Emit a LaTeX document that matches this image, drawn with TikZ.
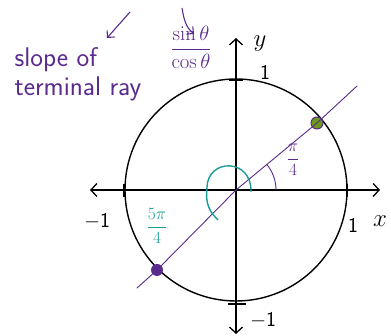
\documentclass[tikz,border=0pt]{standalone}
\usepackage{amsmath,amssymb}
\usepackage{xcolor}
\usepackage{tikz}
\usetikzlibrary{positioning,arrows.meta,calc}
\definecolor{rayviolet}{HTML}{5A2A8C}
\definecolor{angteal}{HTML}{1A9C98}
\definecolor{ptgreen}{HTML}{6A9A18}
\tikzset{
  axisln/.style ={draw=black, line width=1.3pt,
                  {Straight Barb[length=6pt,width=13pt]}-{Straight Barb[length=6pt,width=13pt]}},
  unitc/.style  ={draw=black, line width=1.4pt},
  tick/.style   ={draw=black, line width=1.6pt},
  ray/.style    ={draw=rayviolet, line width=0.9pt, line cap=round},
  lbl/.style    ={font=\sffamily\fontsize{17}{17}\selectfont, inner sep=1pt},
  num/.style    ={font=\sffamily\fontsize{21}{21}\selectfont, inner sep=1pt},
  big/.style    ={font=\fontsize{24}{24}\selectfont, inner sep=1pt},
  note/.style   ={lbl, rayviolet, font=\sffamily\fontsize{27}{29}\selectfont},
  pointer/.style={draw=rayviolet, line width=1.1pt, -{Straight Barb[length=5pt,width=10pt]}},
  dot/.style    ={circle, inner sep=0pt, minimum size=12pt},
}
\begin{document}
\begin{tikzpicture}[x=1pt,y=-1pt]
\useasboundingbox (0,0) rectangle (391,336);
% axes and unit circle
\coordinate (O) at (236,190);
\coordinate (xL) at (90,190);  \coordinate (xR) at (380,190);
\coordinate (yT) at (236,38);  \coordinate (yB) at (236,334);
\draw[unitc] (O) circle (111);
\draw[axisln] (xL) -- (xR);
\draw[axisln] (yB) -- (yT);
\foreach \x in {124,347} {\draw[tick] (\x,184) -- (\x,197);}
\draw[tick] (229,80) -- (243,80);
\draw[tick] (228,304) -- (246,304);
% axis labels
\node[big] (ylab) at (260,44) {$y$};
\node[big] (xlab) at (380,221) {$x$};
\node[num] (one1) at (265,72) {1};
\node[num] (one2) at (353,225) {1};
\node[num] (mone1) at (97,221) {$-$1};
\node[num] (mone2) at (263,320) {$-$1};
% terminal ray
\coordinate (rS) at (137,288);
\coordinate (rE) at (357,86);
\node[dot, fill=rayviolet] (pA) at (157,270) {};
\node[dot, draw=rayviolet, line width=1pt, fill=ptgreen] (pB) at (317,123) {};
\draw[ray] (rS) -- (pA.center) -- (O) -- (pB.center) -- (rE);
% angles
\draw[rayviolet, line width=0.9pt] (276,190) arc[start angle=0, end angle=-40, radius=40];
\node[lbl, rayviolet] (qtr) at (293,160) {$\dfrac{\pi}{4}$};
\draw[angteal, line width=1.4pt] (251,192) .. controls (252,158) and (208,158) .. (207,187)
  .. controls (205,205) and (210,212) .. (218,220);
\node[lbl, angteal] (fqtr) at (157,226) {$\dfrac{5\pi}{4}$};
% notes
\node[note, align=left] (slope) at (78,74) {slope of\\terminal ray};
\node[lbl, rayviolet, font=\fontsize{20}{20}\selectfont] (ratio) at (191,47) {$\dfrac{\sin\theta}{\cos\theta}$};
\coordinate (t1) at (130,12);
\coordinate (t2) at (182,8);
\draw[pointer] (t1) -- (107,38);
\draw[pointer] (t2) to[out=-80,in=140] (194,34);
\end{tikzpicture}
\end{document}
